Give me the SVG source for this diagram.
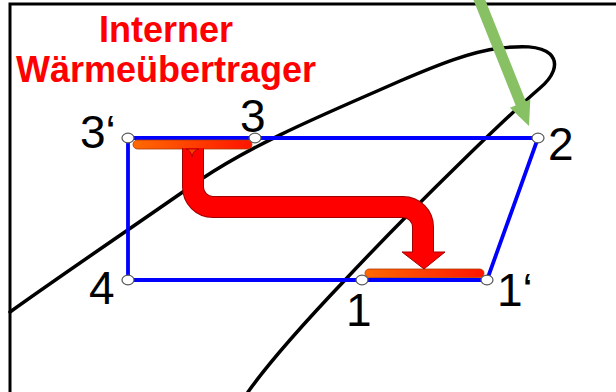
<svg xmlns="http://www.w3.org/2000/svg" width="616" height="392" viewBox="0 0 616 392">
<defs>
<style>
.frame{fill:none;stroke:#000;stroke-width:3}
.dome{fill:none;stroke:#000;stroke-width:3.5;stroke-linecap:round;stroke-linejoin:round}
.cyc{fill:none;stroke:#0000FF;stroke-width:3.8;stroke-linejoin:round}
.node{fill:#fff;stroke:#555;stroke-width:1.2}
.lbl{font-family:"Liberation Sans",Arial,sans-serif;font-size:46px;fill:#000}
.title{font-family:"Liberation Sans",Arial,sans-serif;font-size:36px;font-weight:bold;fill:#FF0000;text-anchor:middle}
.bar{stroke:#B03A00;stroke-width:0.8}
</style>
<linearGradient id="barGrad" x1="0" y1="0" x2="1" y2="0">
<stop offset="0" stop-color="#FF6A00"/>
<stop offset="1" stop-color="#FF1400"/>
</linearGradient>
</defs>
<rect width="616" height="392" fill="#fff"/>
<g id="frame"><path class="frame" d="M10,392 V4 H616"/></g>
<g id="dome"><path class="dome" d="M10,312 C60,276 140,222 200,180 C260,140 330,112 400,81 C440,64 470,52 500,48 C520,46 540,45 550,54 C560,64 552,78 540,88 C510,114 420,200 345,280 C305,322 272,358 248,392"/></g>
<g id="connectors">
<path class="cyc" d="M128,138 H538 L487,280 H128 Z"/>
</g>
<g id="hx-bars">
<rect class="bar" x="133" y="140" width="119" height="9" rx="4.5" fill="url(#barGrad)"/>
<rect class="bar" x="365" y="269" width="119" height="8.5" rx="4.2" fill="url(#barGrad)"/>
</g>
<g id="heat-arrow">
<path d="M193,148 V187 A20,20 0 0 0 213,207 H403 A20,20 0 0 1 423,227 V253" fill="none" stroke="#A00000" stroke-width="22"/>
<polygon points="402,252 445,252 424,269" fill="#FF0000" stroke="#A00000" stroke-width="1"/>
<path d="M193,148 V187 A20,20 0 0 0 213,207 H403 A20,20 0 0 1 423,227 V256" fill="none" stroke="#FF0000" stroke-width="20"/>
<path d="M186,149 Q191,150 192,157 Q193,150 199,149 Z" fill="#FF3C00" stroke="#A00000" stroke-width="0.8"/>
</g>
<g id="node-3p"><ellipse class="node" cx="128" cy="138" rx="6" ry="4.8"/><text class="lbl" x="80" y="148">3‘</text></g>
<g id="node-3"><ellipse class="node" cx="255" cy="138" rx="6" ry="4.8"/><text class="lbl" x="240" y="132">3</text></g>
<g id="node-2"><ellipse class="node" cx="538" cy="138" rx="6" ry="4.8"/><text class="lbl" x="548" y="160">2</text></g>
<g id="node-1p"><ellipse class="node" cx="487" cy="280" rx="6" ry="4.8"/><text class="lbl" x="497" y="306">1‘</text></g>
<g id="node-1"><ellipse class="node" cx="362" cy="280" rx="6" ry="4.8"/><text class="lbl" x="346" y="326">1</text></g>
<g id="node-4"><ellipse class="node" cx="128" cy="280" rx="6" ry="4.8"/><text class="lbl" x="89" y="304">4</text></g>
<g id="title">
<text class="title" x="166" y="42">Interner</text>
<text class="title" x="166" y="82">Wärmeübertrager</text>
</g>
<g id="green-arrow">
<line x1="477" y1="-6" x2="521" y2="104" stroke="#88C064" stroke-width="11"/>
<polygon points="509.9,107.8 530.3,99.6 529,126" fill="#88C064"/>
</g>
</svg>
